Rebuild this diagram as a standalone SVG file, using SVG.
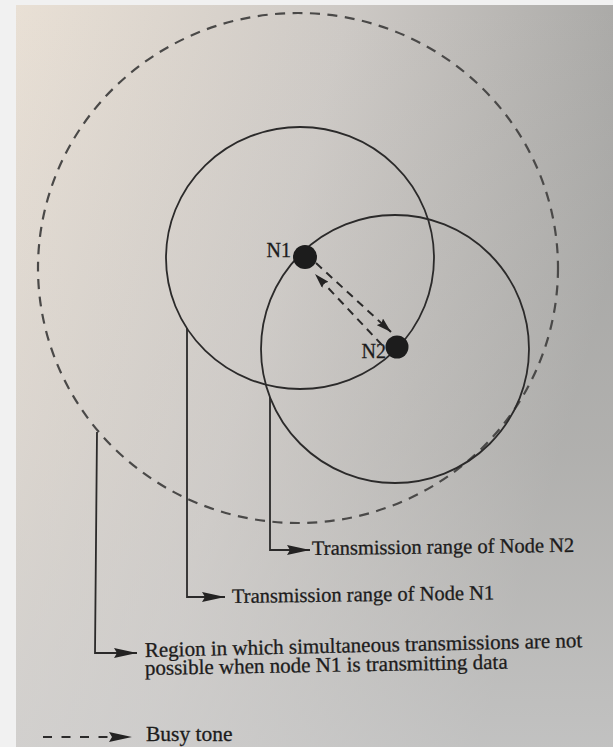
<svg xmlns="http://www.w3.org/2000/svg" width="613" height="747" viewBox="0 0 613 747">
  <defs>
    <linearGradient id="page" x1="0" y1="0" x2="1" y2="0.35">
      <stop offset="0" stop-color="#e9e0d5"/>
      <stop offset="0.5" stop-color="#cdc9c5"/>
      <stop offset="1" stop-color="#a2a2a0"/>
    </linearGradient>
    <linearGradient id="pageV" x1="0" y1="0" x2="0" y2="1">
      <stop offset="0" stop-color="#d4d2d0" stop-opacity="0"/>
      <stop offset="0.6" stop-color="#d2d0ce" stop-opacity="0.3"/>
      <stop offset="1" stop-color="#cfcfcf" stop-opacity="0.7"/>
    </linearGradient>
    <marker id="ah" markerUnits="userSpaceOnUse" markerWidth="23" markerHeight="11" viewBox="0 0 23 11" refX="23" refY="5.5" orient="auto">
      <path d="M0,0.5 L23,5.5 L0,10.5 L3,5.5 z" fill="#232222"/>
    </marker>
    <marker id="ahs" markerUnits="userSpaceOnUse" markerWidth="15" markerHeight="9" viewBox="0 0 15 9" refX="15" refY="4.5" orient="auto">
      <path d="M0,0 L15,4.5 L0,9 L2,4.5 z" fill="#232222"/>
    </marker>
    <style>
      .solid { fill: none; stroke: #2b2a2a; stroke-width: 1.8; }
      .busy { fill: none; stroke: #4a4948; stroke-width: 2.2; stroke-dasharray: 10 7.5; }
      .lead { fill: none; stroke: #2b2a2a; stroke-width: 1.8; }
      .darr { fill: none; stroke: #2b2a2a; stroke-width: 2; stroke-dasharray: 8 6; }
      .dot { fill: #1c1c1c; }
      text { font-family: "Liberation Serif", "Times New Roman", serif; fill: #1d1c1c; stroke: #1d1c1c; stroke-width: 0.3; }
      .lbl { font-size: 20.5px; }
      .rlbl { font-size: 21px; }
      .nlbl { font-size: 20px; }
    </style>
  </defs>

  <rect x="0" y="0" width="613" height="747" fill="#f1f1f1"/>
  <rect x="16" y="5" width="597" height="742" fill="url(#page)"/>
  <rect x="16" y="5" width="597" height="742" fill="url(#pageV)"/>

  <g id="interference-region">
    <ellipse class="busy" cx="298" cy="268" rx="260" ry="255"/>
  </g>

  <g id="range-n1">
    <ellipse class="solid" cx="300" cy="258" rx="134" ry="131"/>
  </g>

  <g id="range-n2">
    <ellipse class="solid" cx="395" cy="349" rx="134" ry="134"/>
  </g>

  <g id="node-n1">
    <circle class="dot" cx="305" cy="257" r="12"/>
    <text class="nlbl" x="291" y="257" text-anchor="end">N1</text>
  </g>

  <g id="node-n2">
    <circle class="dot" cx="397" cy="347" r="11.5"/>
    <text class="nlbl" x="386" y="358" text-anchor="end">N2</text>
  </g>

  <g id="connectors">
    <line class="darr" x1="382" y1="345" x2="315" y2="274" marker-end="url(#ahs)"/>
    <line class="darr" x1="316" y1="263" x2="391" y2="332" marker-end="url(#ahs)"/>
    <polyline class="lead" points="270,397 270,550 310,550" marker-end="url(#ah)"/>
    <polyline class="lead" points="187,328 187,597 225,597" marker-end="url(#ah)"/>
    <polyline class="lead" points="97,432 95,653 137,653" marker-end="url(#ah)"/>
  </g>

  <g id="label-n2-range">
    <text class="lbl" x="312" y="555" transform="rotate(-0.7 312 555)">Transmission range of Node N2</text>
  </g>
  <g id="label-n1-range">
    <text class="lbl" x="232" y="603" transform="rotate(-0.8 232 603)">Transmission range of Node N1</text>
  </g>
  <g id="label-region">
    <text class="rlbl" x="145" y="657" transform="rotate(-1.3 145 657)">Region in which simultaneous transmissions are not</text>
    <text class="rlbl" x="145" y="675" transform="rotate(-1.0 145 675)">possible when node N1 is transmitting data</text>
  </g>

  <g id="legend-busy-tone">
    <line x1="43" y1="737" x2="132" y2="737" style="fill:none;stroke:#2b2a2a;stroke-width:2;stroke-dasharray:9 9.5" marker-end="url(#ah)"/>
    <text class="lbl" x="146" y="741" style="font-size:21.5px">Busy tone</text>
  </g>
</svg>
